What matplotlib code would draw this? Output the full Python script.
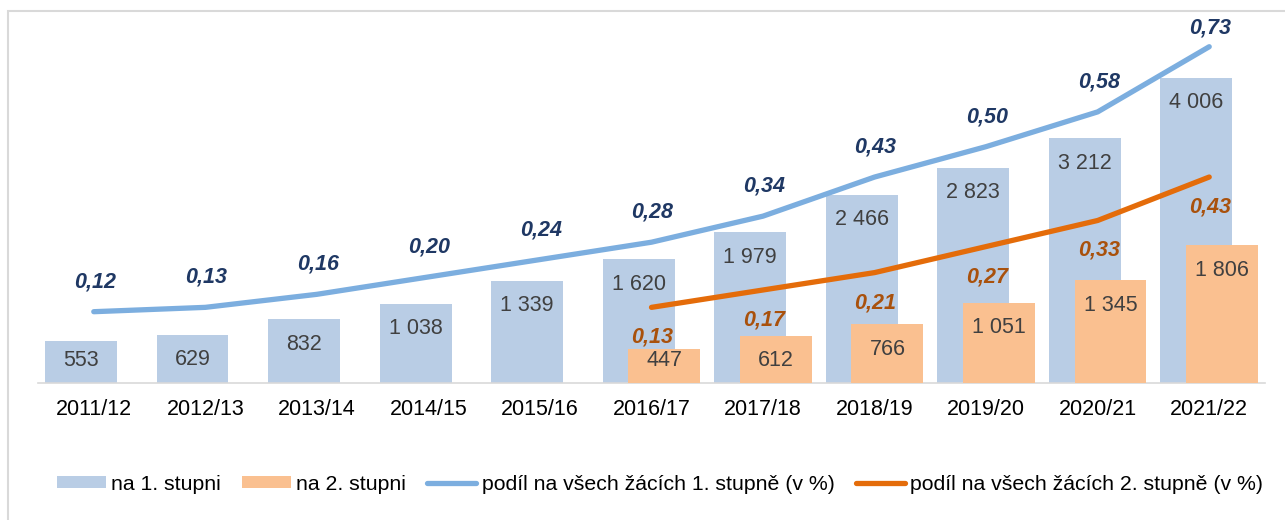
import matplotlib
matplotlib.use("Agg")
import matplotlib.pyplot as plt
from matplotlib.patches import Patch, Rectangle
from matplotlib.lines import Line2D

plt.rcParams['font.family'] = ['Liberation Sans', 'DejaVu Sans']

# data
years = ['2011/12', '2012/13', '2013/14', '2014/15', '2015/16', '2016/17',
         '2017/18', '2018/19', '2019/20', '2020/21', '2021/22']
stupen1 = [553, 629, 832, 1038, 1339, 1620, 1979, 2466, 2823, 3212, 4006]
stupen2_years = ['2016/17', '2017/18', '2018/19', '2019/20', '2020/21', '2021/22']
stupen2 = [447, 612, 766, 1051, 1345, 1806]
podil1 = [0.12, 0.13, 0.16, 0.20, 0.24, 0.28, 0.34, 0.43, 0.50, 0.58, 0.73]
podil2 = [0.13, 0.17, 0.21, 0.27, 0.33, 0.43]

labels_legend = ['na 1. stupni', 'na 2. stupni',
                 'podíl na všech žácích 1. stupně (v %)',
                 'podíl na všech žácích 2. stupně (v %)']

c_bar1 = '#B9CDE5'
c_bar2 = '#FAC090'
c_line1 = '#7CAEDF'
c_line2 = '#E46C0A'
c_lab1 = '#1F3864'
c_lab2 = '#A9510C'
c_val = '#404040'

W, H = 1285, 520
fig = plt.figure(figsize=(W / 100, H / 100), dpi=100)

# light frame like the Excel chart area
fig.patches.append(Rectangle((8 / W, 0 - 0.02), 1.1, (H - 10.5) / H + 0.02,
                             transform=fig.transFigure, fill=False,
                             edgecolor='#D9D9D9', linewidth=1.5))

ax = fig.add_axes([38 / W, (H - 382.7) / H, (1265 - 38) / W, (382.7 - 20) / H])
x1 = list(range(len(years)))
x2 = [years.index(y) for y in stupen2_years]

bw = 0.645
off = 0.115
px_per_unit = 0.07614
ax.bar([x - off for x in x1], stupen1, width=bw, color=c_bar1, zorder=2)
ax.bar([x + off for x in x2], stupen2, width=bw, color=c_bar2, zorder=3)

def fmt_int(v):
    return '{:,}'.format(v).replace(',', ' ')

for xs, vals, o in ((x1, stupen1, -off), (x2, stupen2, off)):
    for x, v in zip(xs, vals):
        y = max(v - 25 / px_per_unit, 22 / px_per_unit)
        ax.text(x + o, y, fmt_int(v), ha='center', va='center',
                fontsize=15.5, color=c_val, zorder=5)

ax.set_xlim(-0.5, len(years) - 0.5)
ax.set_ylim(0, (382.7 - 20) / px_per_unit)
ax.set_xticks(x1)
ax.set_xticklabels(years, fontsize=15.5)
ax.tick_params(axis='x', length=0, pad=12)
ax.set_yticks([])
for s in ('top', 'left', 'right'):
    ax.spines[s].set_visible(False)
ax.spines['bottom'].set_color('#D9D9D9')
ax.spines['bottom'].set_linewidth(1.2)

ax2 = ax.twinx()
ppu2 = 434.4
ax2.set_ylim(0.12 - (382.7 - 311.7) / ppu2, 0.12 + (311.7 - 20) / ppu2)
ax2.plot(x1, podil1, color=c_line1, linewidth=3.8, solid_capstyle='round', zorder=4)
ax2.plot(x2, podil2, color=c_line2, linewidth=3.8, solid_capstyle='round', zorder=4)

def fmt_dec(v):
    return '{:.2f}'.format(v).replace('.', ',')

# labels sit 30 px from the point, but stay inside the plot area
top_val = ax2.get_ylim()[1] - 8 / ppu2
for x, v in zip(x1, podil1):
    dy = min(30, (top_val - v) * ppu2)
    ax2.annotate(fmt_dec(v), (x, v), xytext=(1, dy), textcoords='offset pixels',
                 ha='center', va='center', fontsize=15.5, fontweight='bold',
                 fontstyle='italic', color=c_lab1)
for x, v in zip(x2, podil2):
    ax2.annotate(fmt_dec(v), (x, v), xytext=(1, -30), textcoords='offset pixels',
                 ha='center', va='center', fontsize=15.5, fontweight='bold',
                 fontstyle='italic', color=c_lab2)

ax2.set_yticks([])
for s in ax2.spines.values():
    s.set_visible(False)

handles = [Patch(facecolor=c_bar1), Patch(facecolor=c_bar2),
           Line2D([0], [0], color=c_line1, linewidth=3.8, solid_capstyle='round'),
           Line2D([0], [0], color=c_line2, linewidth=3.8, solid_capstyle='round')]
fig.legend(handles, labels_legend, loc='center', ncol=4,
           bbox_to_anchor=(660 / W, (H - 484) / H), frameon=False,
           fontsize=15.3, handlelength=2.3, handleheight=0.5,
           handletextpad=0.25, columnspacing=1.0)

fig.savefig('out.png', dpi=100)
